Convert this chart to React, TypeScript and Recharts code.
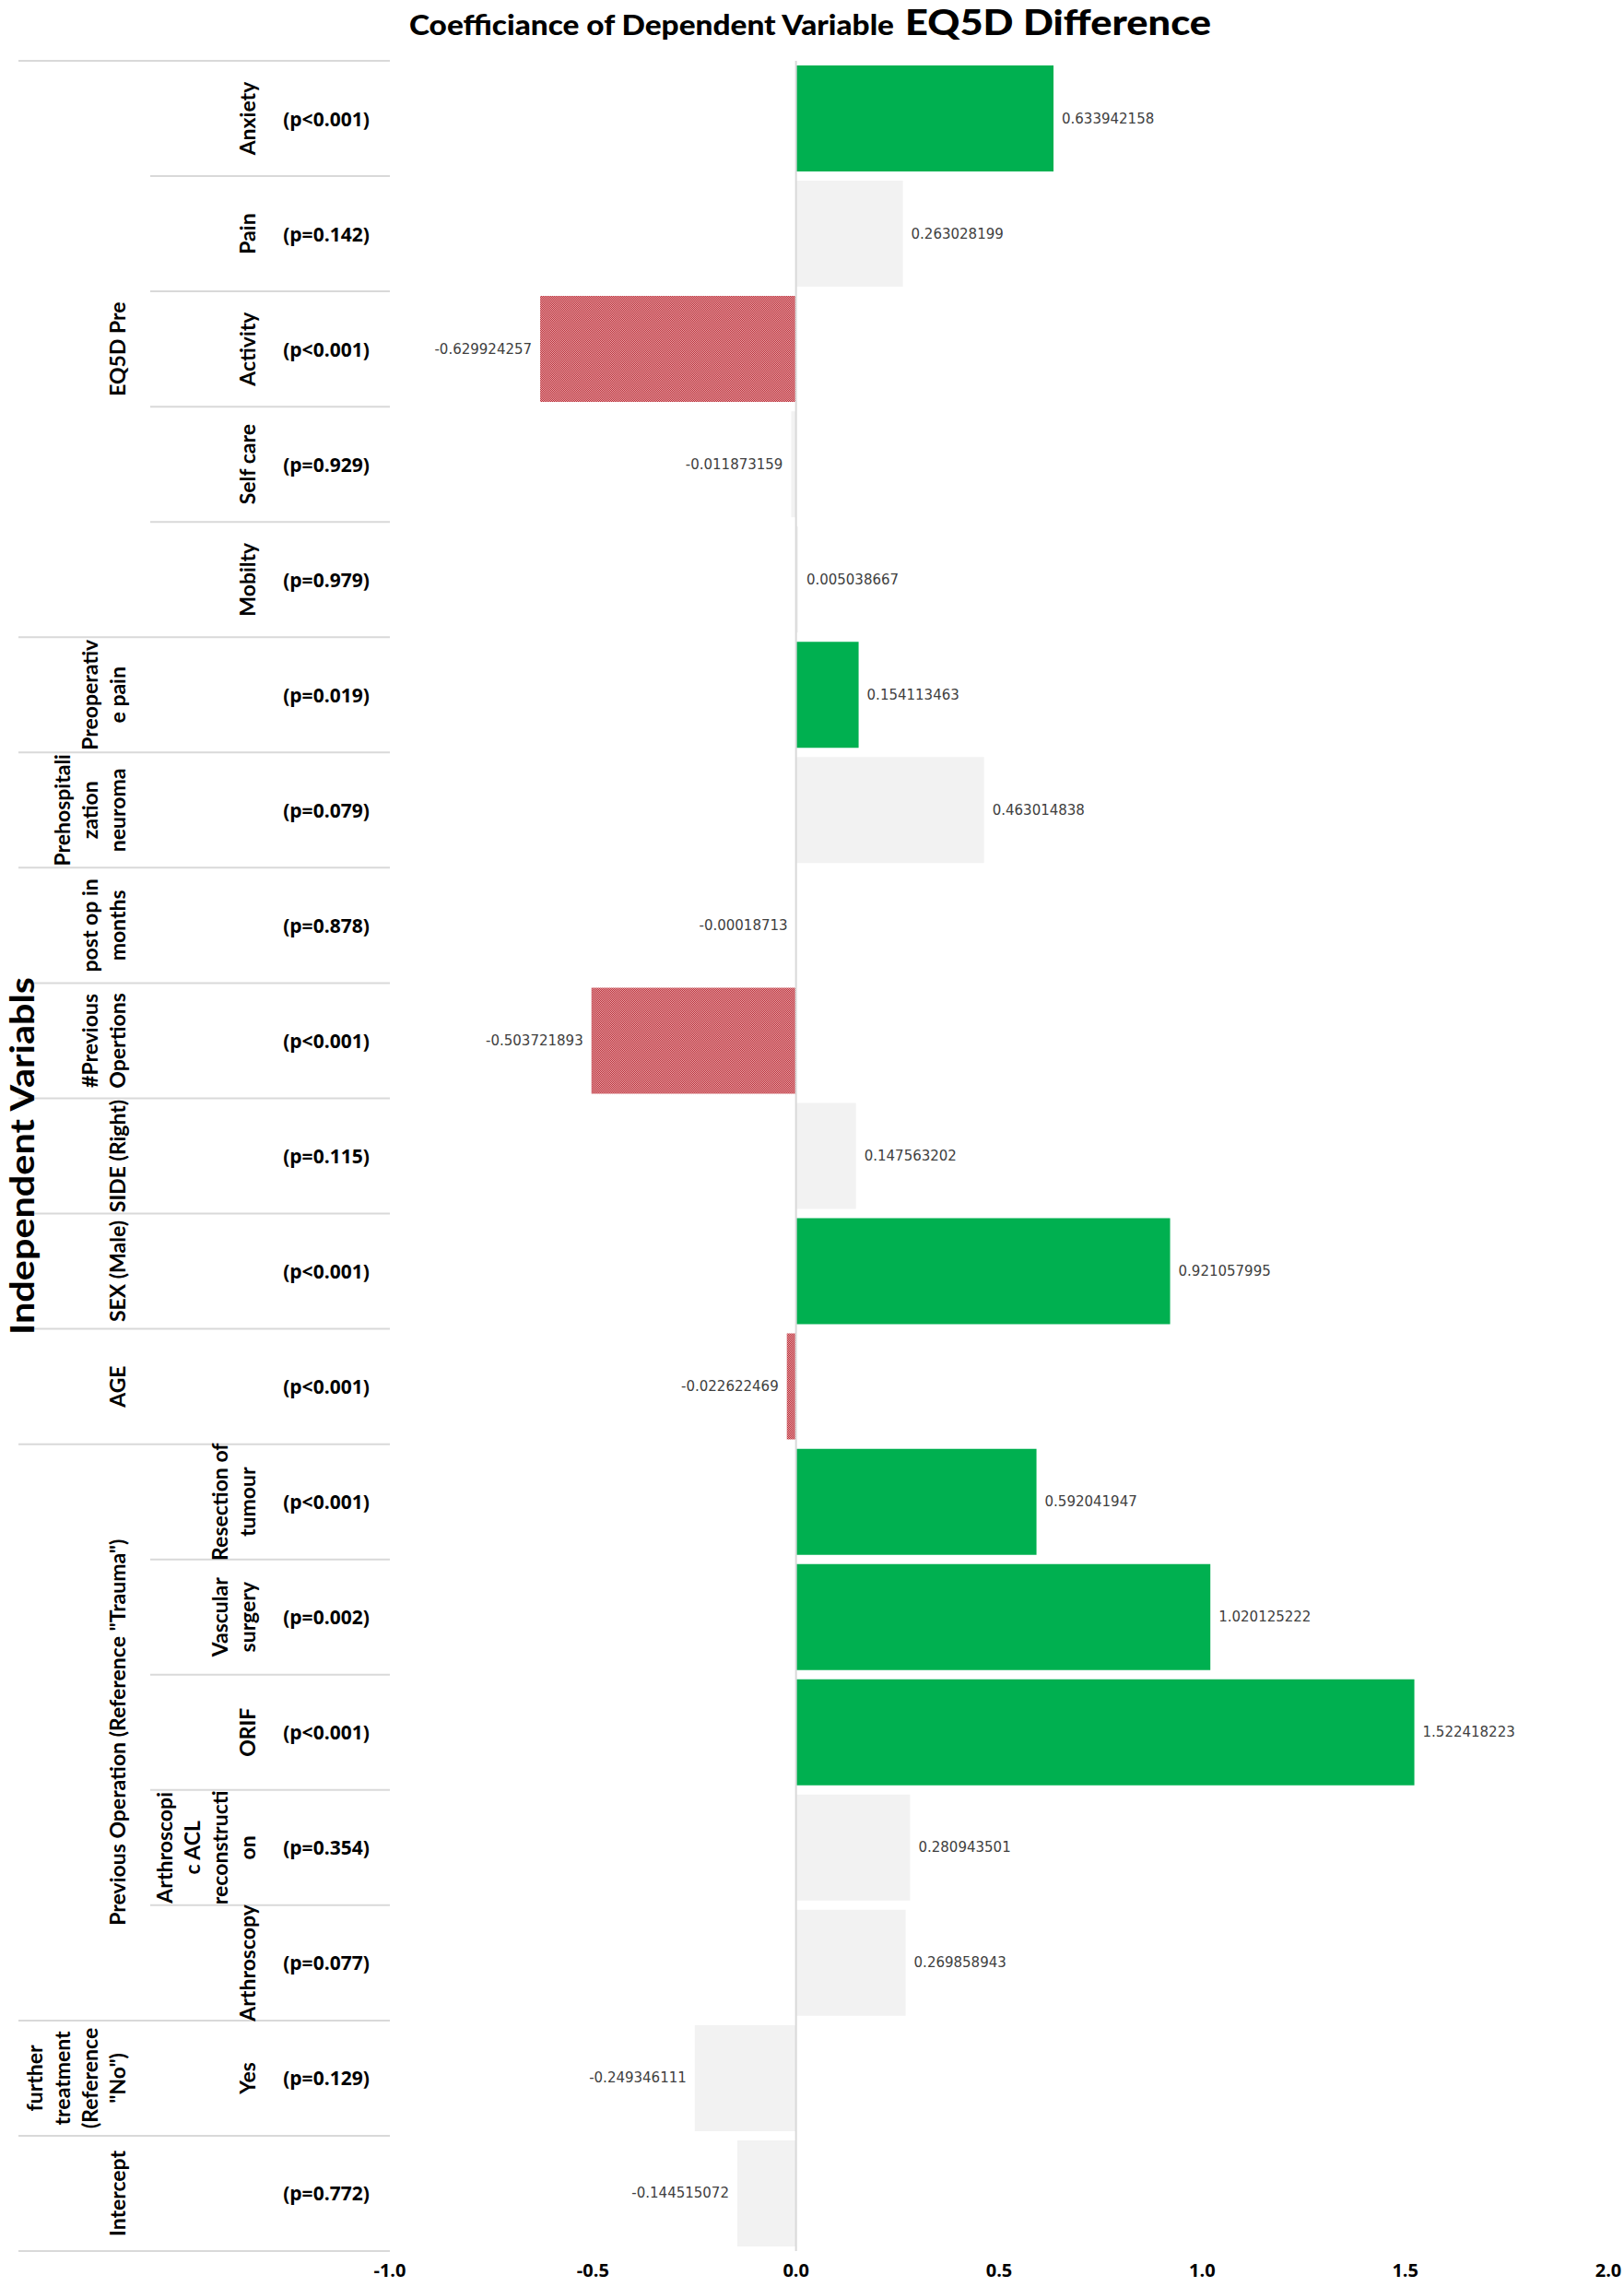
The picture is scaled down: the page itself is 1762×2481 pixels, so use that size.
import { BarChart, Bar, XAxis, YAxis, Cell, LabelList, ReferenceLine } from 'recharts';

// rows top to bottom, each label split the way it wraps in the source
const rowLabels: string[][] = [
  ['Anxiety'],
  ['Pain'],
  ['Activity'],
  ['Self care'],
  ['Mobilty'],
  ['Preoperativ', 'e pain'],
  ['Prehospitali', 'zation', 'neuroma'],
  ['post op in', 'months'],
  ['#Previous', 'Opertions'],
  ['SIDE (Right)'],
  ['SEX (Male)'],
  ['AGE'],
  ['Resection of', 'tumour'],
  ['Vascular', 'surgery'],
  ['ORIF'],
  ['Arthroscopi', 'c ACL', 'reconstructi', 'on'],
  ['Arthroscopy'],
  ['Yes'],
  ['Intercept'],
];

const pValues = [
  '(p<0.001)', '(p=0.142)', '(p<0.001)', '(p=0.929)', '(p=0.979)',
  '(p=0.019)', '(p=0.079)', '(p=0.878)', '(p<0.001)', '(p=0.115)',
  '(p<0.001)', '(p<0.001)', '(p<0.001)', '(p=0.002)', '(p<0.001)',
  '(p=0.354)', '(p=0.077)', '(p=0.129)', '(p=0.772)',
];

const coefficients = [
  0.633942158, 0.263028199, -0.629924257, -0.011873159, 0.005038667,
  0.154113463, 0.463014838, -0.00018713, -0.503721893, 0.147563202,
  0.921057995, -0.022622469, 0.592041947, 1.020125222, 1.522418223,
  0.280943501, 0.269858943, -0.249346111, -0.144515072,
];

const significant = [
  true, false, true, false, false,
  true, false, false, true, false,
  true, true, true, true, true,
  false, false, false, false,
];

const groups = [
  { label: ['EQ5D Pre'], start: 0, end: 4 },
  { label: ['Previous Operation (Reference "Trauma")'], start: 12, end: 16 },
  { label: ['further', 'treatment', '(Reference', '"No")'], start: 17, end: 17 },
];

const xTicks = [-1, -0.5, 0, 0.5, 1, 1.5, 2];

const WIDTH = 1762;
const HEIGHT = 2481;
const PLOT_TOP = 66;
const PLOT_BOTTOM = 2442;
const ROW_H = (PLOT_BOTTOM - PLOT_TOP) / rowLabels.length;
const LINE_STEP = 30;

const LABEL_FONT = 'Lato, "Open Sans", sans-serif';
const P_FONT = '"Open Sans", "DejaVu Sans", sans-serif';
const VALUE_FONT = '"DejaVu Sans", sans-serif';

const data = coefficients.map((coef, i) => ({ key: `row${i}`, coef, sig: significant[i] }));

const groupOf = (i: number) => groups.findIndex((g) => i >= g.start && i <= g.end);

function barFill(coef: number, sig: boolean) {
  if (!sig) return '#f2f2f2';
  return coef > 0 ? '#00b050' : 'url(#redCheck)';
}

function RotatedLines({ lines, xLast, y, size }: { lines: string[]; xLast: number; y: number; size: number }) {
  return (
    <g>
      {lines.map((t, j) => (
        <text
          key={j}
          transform={`translate(${xLast - (lines.length - 1 - j) * LINE_STEP}, ${y}) rotate(-90)`}
          textAnchor="middle"
          dominantBaseline="central"
          fontFamily={LABEL_FONT}
          fontWeight={700}
          fontSize={size}
          fill="#000"
        >
          {t}
        </text>
      ))}
    </g>
  );
}

function RowTick(props: any) {
  const { y, payload } = props;
  const i = data.findIndex((d) => d.key === payload.value);
  if (i < 0) return null;
  const g = groupOf(i);
  const inner = g >= 0 && groupOf(i + 1) === g;
  const top = y - ROW_H / 2;
  const bottom = y + ROW_H / 2;
  const grp = g >= 0 ? groups[g] : null;
  return (
    <g>
      {i === 0 && <line x1={20} x2={423} y1={top} y2={top} stroke="#d9d9d9" strokeWidth={2} />}
      <line x1={inner ? 163 : 20} x2={423} y1={bottom} y2={bottom} stroke="#d9d9d9" strokeWidth={2} />
      {grp && i === grp.start && (
        <RotatedLines lines={grp.label} xLast={127} y={y + ((grp.end - grp.start) / 2) * ROW_H} size={23} />
      )}
      <RotatedLines lines={rowLabels[i]} xLast={g >= 0 ? 268 : 127} y={y} size={23} />
      <text
        x={354}
        y={y}
        textAnchor="middle"
        dominantBaseline="central"
        fontFamily={P_FONT}
        fontWeight={700}
        fontSize={21}
        fill="#000"
      >
        {pValues[i]}
      </text>
    </g>
  );
}

function ValueLabel(props: any) {
  const { x, y, width, height, value } = props;
  const left = Math.min(x, x + width);
  const right = Math.max(x, x + width);
  const pos = value >= 0;
  return (
    <text
      x={pos ? right + 9 : left - 9}
      y={y + height / 2}
      textAnchor={pos ? 'start' : 'end'}
      dominantBaseline="central"
      fontFamily={VALUE_FONT}
      fontSize={15}
      fill="#404040"
    >
      {String(value)}
    </text>
  );
}

export default function App() {
  return (
    <div style={{ position: 'absolute', left: 0, top: 0, width: WIDTH, height: HEIGHT, background: '#fff' }}>
      <svg width={0} height={0} style={{ position: 'absolute' }}>
        <defs>
          <pattern id="redCheck" width={2} height={2} patternUnits="userSpaceOnUse">
            <rect width={2} height={2} fill="#eaa5a9" />
            <rect width={1} height={1} fill="#b82e38" />
            <rect x={1} y={1} width={1} height={1} fill="#b82e38" />
          </pattern>
        </defs>
      </svg>
      <BarChart
        width={WIDTH}
        height={HEIGHT}
        data={data}
        layout="vertical"
        margin={{ top: PLOT_TOP, right: 17, bottom: 0, left: 0 }}
        barCategoryGap={5}
      >
        <XAxis
          type="number"
          domain={[-1, 2]}
          ticks={xTicks}
          tickFormatter={(v: number) => v.toFixed(1)}
          axisLine={false}
          tickLine={false}
          tickSize={0}
          tickMargin={14}
          height={HEIGHT - PLOT_BOTTOM}
          tick={{ fontFamily: P_FONT, fontWeight: 700, fontSize: 20, fill: '#000' }}
        />
        <YAxis
          type="category"
          dataKey="key"
          width={423}
          axisLine={false}
          tickLine={false}
          interval={0}
          tick={(p: any) => <RowTick {...p} />}
        />
        <ReferenceLine x={0} stroke="#d9d9d9" strokeWidth={2} />
        <Bar dataKey="coef" isAnimationActive={false}>
          {data.map((d, i) => (
            <Cell key={`cell-${i}`} fill={barFill(d.coef, d.sig)} />
          ))}
          <LabelList dataKey="coef" content={(p: any) => <ValueLabel {...p} />} />
        </Bar>
      </BarChart>
      <svg
        width={WIDTH}
        height={HEIGHT}
        style={{ position: 'absolute', left: 0, top: 0, pointerEvents: 'none' }}
      >
        <text
          x={444}
          y={38}
          fontFamily={LABEL_FONT}
          fontWeight={900}
          fontSize={31}
          fill="#000"
          textLength={526}
          lengthAdjust="spacingAndGlyphs"
        >
          Coefficiance of Dependent Variable
        </text>
        <text
          x={982}
          y={38}
          fontFamily={LABEL_FONT}
          fontWeight={900}
          fontSize={37}
          fill="#000"
          textLength={332}
          lengthAdjust="spacingAndGlyphs"
        >
          EQ5D Difference
        </text>
        <text
          transform={`translate(37, ${(PLOT_TOP + PLOT_BOTTOM) / 2}) rotate(-90)`}
          textAnchor="middle"
          fontFamily={LABEL_FONT}
          fontWeight={700}
          fontSize={37}
          fill="#000"
          textLength={388}
          lengthAdjust="spacingAndGlyphs"
        >
          Independent Variabls
        </text>
      </svg>
    </div>
  );
}
